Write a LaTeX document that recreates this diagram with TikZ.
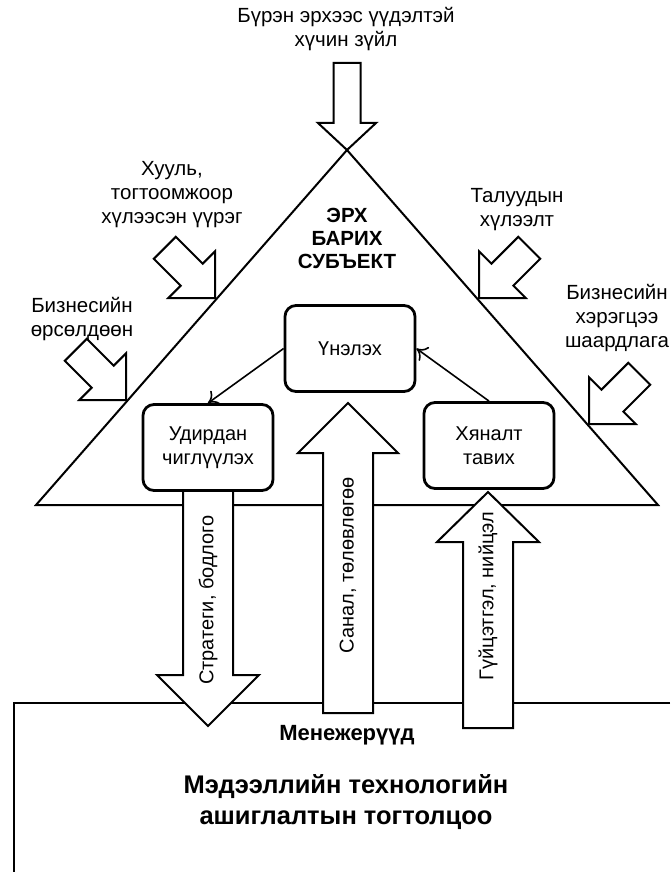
\documentclass[tikz,border=0pt]{standalone}
\usepackage{fontspec}
\setmainfont{Liberation Sans}
\usepackage{tikz}
\usetikzlibrary{arrows.meta}
\tikzset{>={To[length=10pt,width=17pt]}}
\tikzstyle{stage} = [rectangle, rounded corners=11pt, draw=black, fill=white, line width=2.8pt, minimum width=130pt, minimum height=86pt, align=center, font=\fontsize{20}{24}\selectfont]
\tikzstyle{lbl} = [draw=none, inner sep=0, align=center, font=\fontsize{20.5}{24}\selectfont]
\tikzstyle{fat} = [draw=black, fill=white, line width=2pt, line join=miter]

\begin{document}
\begin{tikzpicture}[x=1pt, y=-1pt]
\useasboundingbox (0,0) rectangle (670,872);
%\node [draw=none, align=center] at (335,900) {frame};
\draw [line width=2.4pt] (670,703) -- (14,703) -- (14,872);
\draw [fat, fill=none] (333.5,63) -- (360.5,63) -- (360.5,123) -- (376,123) -- (347,150) -- (318,123) -- (333.5,123) -- cycle;
\draw [line width=2pt] (36,505) -- (347,150) -- (658,505) -- cycle;
\draw [fat, shift={(215,298)}, rotate=-45] (0,0) -- (-33,33) -- (-33,15.5) -- (-71,15.5) -- (-71,-15.5) -- (-33,-15.5) -- (-33,-33) -- cycle;
\draw [fat, shift={(126,400)}, rotate=-45] (0,0) -- (-33,33) -- (-33,15.5) -- (-71,15.5) -- (-71,-15.5) -- (-33,-15.5) -- (-33,-33) -- cycle;
\draw [fat, shift={(479,298)}, rotate=-135] (0,0) -- (-33,33) -- (-33,15.5) -- (-71,15.5) -- (-71,-15.5) -- (-33,-15.5) -- (-33,-33) -- cycle;
\draw [fat, shift={(589,424)}, rotate=-135] (0,0) -- (-33,33) -- (-33,15.5) -- (-71,15.5) -- (-71,-15.5) -- (-33,-15.5) -- (-33,-33) -- cycle;
\draw [fat] (183,488) -- (233,488) -- (233,675) -- (259,675) -- (208,726) -- (157,675) -- (183,675) -- cycle;
\draw [fat] (323,713) -- (373,713) -- (373,453) -- (398,453) -- (348,403) -- (298,453) -- (323,453) -- cycle;
\draw [fat] (463,728) -- (513,728) -- (513,542) -- (539,542) -- (488,492) -- (437,542) -- (463,542) -- cycle;
\node [stage] (eval) at (350,348.5) {Үнэлэх};
\node [stage] (lead) at (208,447.5) {Удирдан\\чиглүүлэх};
\node [stage] (ctrl) at (489,445.5) {Хяналт\\тавих};
\draw [->, line width=1.6pt] (eval.west) to (lead.north);
\draw [->, line width=1.6pt] (ctrl.north) to (eval.east);
\node [lbl] (force) at (346,29.5) {Бүрэн эрхээс үүдэлтэй\\хүчин зүйл};
\node [lbl] (law) at (172,195) {Хууль,\\тогтоомжоор\\хүлээсэн үүрэг};
\node [lbl] (comp) at (82,319.5) {Бизнесийн\\өрсөлдөөн};
\node [lbl] (party) at (517,209.5) {Талуудын\\хүлээлт};
\node [lbl] (need) at (617,318) {Бизнесийн\\хэрэгцээ\\шаардлага};
\node [lbl, font=\fontsize{20.5}{23}\selectfont\bfseries] (subj) at (347,238) {ЭРХ\\БАРИХ\\СУБЪЕКТ};
\node [lbl, font=\fontsize{20}{24}\selectfont, rotate=90] (strat) at (208,600) {Стратеги, бодлого};
\node [lbl, font=\fontsize{20}{24}\selectfont, rotate=90] (plan) at (348,565) {Санал, төлөвлөгөө};
\node [lbl, font=\fontsize{20}{24}\selectfont, rotate=90] (perf) at (488,596) {Гүйцэтгэл, нийцэл};
\node [lbl, font=\fontsize{22}{24}\selectfont\bfseries] (mgr) at (347,735) {Менежерүүд};
\node [lbl, font=\fontsize{25.5}{31}\selectfont\bfseries] (sys) at (346,802) {Мэдээллийн технологийн\\ашиглалтын тогтолцоо};
\end{tikzpicture}
\end{document}
